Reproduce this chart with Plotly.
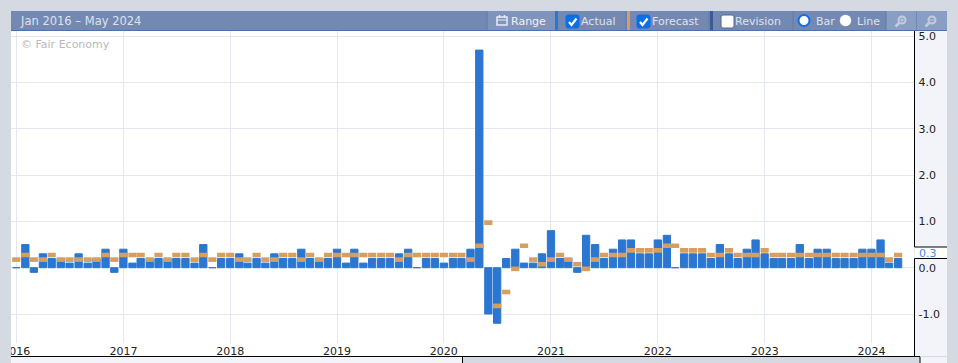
import pandas as pd
import plotly.graph_objects as go

W, H = 958, 363

months = pd.date_range("2016-01-01", periods=100, freq="MS")
actual = [0.0,0.5,-0.1,0.3,0.2,0.2,0.1,0.3,0.1,0.2,0.4,-0.1,
          0.4,0.1,0.2,0.2,0.2,0.2,0.2,0.2,0.1,0.5,0.0,0.2,
          0.2,0.3,0.1,0.2,0.1,0.3,0.2,0.2,0.4,0.2,0.2,0.2,
          0.4,0.1,0.4,0.1,0.2,0.2,0.2,0.3,0.4,0.0,0.2,0.2,
          0.1,0.2,0.2,0.4,4.7,-1.0,-1.2,0.2,0.4,0.1,0.1,0.3,
          0.8,0.2,0.2,-0.1,0.7,0.5,0.2,0.4,0.6,0.6,0.3,0.3,
          0.6,0.7,0.0,0.3,0.3,0.3,0.2,0.5,0.3,0.2,0.4,0.6,
          0.3,0.2,0.2,0.2,0.5,0.2,0.4,0.4,0.2,0.2,0.2,0.4,
          0.4,0.6,0.1,0.2]
forecast = [0.2,0.3,0.2,0.2,0.3,0.2,0.2,0.2,0.2,0.2,0.3,0.2,
            0.3,0.3,0.3,0.2,0.3,0.2,0.3,0.3,0.2,0.3,0.2,0.3,
            0.3,0.2,0.2,0.3,0.2,0.2,0.3,0.3,0.2,0.3,0.2,0.3,
            0.3,0.3,0.3,0.3,0.3,0.3,0.3,0.2,0.3,0.3,0.3,0.3,
            0.3,0.3,0.3,0.2,0.5,1.0,-0.8,-0.5,0.0,0.5,0.2,0.1,
            0.2,0.3,0.2,0.1,0.0,0.2,0.3,0.3,0.3,0.4,0.4,0.4,
            0.4,0.5,0.5,0.4,0.4,0.4,0.3,0.3,0.4,0.3,0.3,0.3,
            0.4,0.3,0.3,0.3,0.3,0.3,0.3,0.3,0.3,0.3,0.3,0.3,
            0.3,0.3,0.2,0.3]
y_ticks = [-1, 0, 1, 2, 3, 4, 5]
y_labels = ["-1.0", "0.0", "1.0", "2.0", "3.0", "4.0", "5.0"]
x_range = ["2015-12-14", "2024-05-27"]
y_range = [-1.626, 5.112]
latest_label = "0.3"
title = "Jan 2016 – May 2024"
credit = "© Fair Economy"

BAR = "#2a76d0"; FC = "#d69f62"; GRID = "#e6e8f1"; GRAY = "#d5d9e2"
STRIP = "#f3f4f9"; BAND = "#7389b4"; BTN = "#8a9dc4"; TXT = "#dde2ec"; INK = "#222222"
DAY_MS = 86400000
marker_top, marker_h = 0.025, 0.1


def px(x): return x / W
def py(y): return 1 - y / H


shapes, notes = [], []


def rect(x0, y0, x1, y1, color, layer="above", line=None, lw=0):
    shapes.append(dict(type="rect", xref="paper", yref="paper", x0=px(x0), x1=px(x1), y0=py(y1), y1=py(y0),
                       fillcolor=color, layer=layer, line=dict(width=lw, color=line or color)))


def seg(x0, y0, x1, y1, color="#000000", w=1, layer="above"):
    shapes.append(dict(type="line", xref="paper", yref="paper", x0=px(x0), x1=px(x1), y0=py(y0), y1=py(y1),
                       layer=layer, line=dict(color=color, width=w)))


def circ(cx, cy, r, fill, line, lw):
    shapes.append(dict(type="circle", xref="paper", yref="paper", x0=px(cx - r), x1=px(cx + r), y0=py(cy + r), y1=py(cy - r),
                       fillcolor=fill, layer="above", line=dict(color=line, width=lw)))


def label(x, y, s, color=TXT, size=11, anchor="left"):
    notes.append(dict(xref="paper", yref="paper", x=px(x), y=py(y), text=s, showarrow=False, xanchor=anchor, yanchor="middle",
                      xshift=-2, font=dict(family="DejaVu Sans", size=size, color=color)))


def box(x, y, fill, check):
    path = (f"M {px(x+2)} {py(y)} L {px(x+11)} {py(y)} Q {px(x+13)} {py(y)} {px(x+13)} {py(y+2)} L {px(x+13)} {py(y+11)} "
            f"Q {px(x+13)} {py(y+13)} {px(x+11)} {py(y+13)} L {px(x+2)} {py(y+13)} Q {px(x)} {py(y+13)} {px(x)} {py(y+11)} "
            f"L {px(x)} {py(y+2)} Q {px(x)} {py(y)} {px(x+2)} {py(y)} Z")
    shapes.append(dict(type="path", xref="paper", yref="paper", path=path, fillcolor=fill, layer="above",
                       line=dict(width=1, color="#55688f" if not check else fill)))
    if check:
        shapes.append(dict(type="path", xref="paper", yref="paper", layer="above",
                           path=f"M {px(x+3)} {py(y+7)} L {px(x+5.5)} {py(y+10)} L {px(x+10.5)} {py(y+3.5)}",
                           line=dict(color="white", width=2.2)))


def lens(cx, cy, plus):
    circ(cx, cy, 3.5, "rgba(0,0,0,0)", "#c3cde0", 2)
    seg(cx - 3, cy + 3, cx - 6.5, cy + 6.5, "#c3cde0", 2.5)
    seg(cx - 2, cy, cx + 2, cy, "#c3cde0", 1)
    if plus:
        seg(cx, cy - 2, cx, cy + 2, "#c3cde0", 1)


# frame
rect(11, 343, 915, 357, "white", "below")
rect(915, 31, 947, 356, STRIP, "below")
rect(915, 247, 947, 258, "white", "below")
rect(11, 357, 462, 363, STRIP)
rect(462, 357, 958, 363, GRAY)
rect(920, 357, 947, 363, STRIP)
rect(0, 0, 11, 363, GRAY)
rect(947, 0, 958, 363, GRAY)
rect(0, 0, 958, 11, GRAY)
rect(11, 11, 947, 30, BAND)
seg(11, 30.5, 947, 30.5, "#4d6fb0", 1)
seg(11, 356.5, 920, 356.5)
seg(462.5, 357, 462.5, 363)
seg(920, 357, 920, 363)
seg(914.5, 31, 914.5, 247)
seg(914.5, 258.5, 914.5, 356)
seg(914.5, 247, 947, 247)
seg(914.5, 258.5, 947, 258.5)

# toolbar
rect(487, 11, 555, 30, "#7f93bc")
rect(555, 11, 558, 30, BAR)
rect(627, 11, 630, 30, FC)
rect(710, 11, 713, 30, "#3c5a98")
rect(886, 11, 916, 30, BTN)
rect(917, 11, 947, 30, BTN)
for sx in (487, 626, 709, 793, 886):
    seg(sx, 11, sx, 30, "#617bab", 1)
label(20, 21, title, "#dde2ec", 11.5)
# calendar icon
rect(497, 17, 507, 25, "rgba(0,0,0,0)", line="#e6eaf2", lw=1.5)
seg(497, 20, 507, 20, "#e6eaf2", 1)
seg(499.5, 15, 499.5, 18, "#e6eaf2", 1.5)
seg(504.5, 15, 504.5, 18, "#e6eaf2", 1.5)
label(511, 21, "Range", "#eef1f6", 11)
box(566, 15, "#0b6fe8", True)
label(581, 21, "Actual", TXT, 11)
box(637, 15, "#0b6fe8", True)
label(652, 21, "Forecast", TXT, 11)
box(721, 15, "#ffffff", False)
label(735, 21, "Revision", TXT, 11)
circ(804, 20.5, 5.5, "white", "#0b6fe8", 2)
label(816, 21, "Bar", TXT, 11)
circ(845.5, 20.5, 6, "white", "#5a71a0", 0.5)
label(857, 21, "Line", TXT, 11)
lens(902, 20, True)
lens(932, 20, False)

label(21, 44.5, credit, "#b9b9b9", 11)
label(919, 253, latest_label, "#3f8ae2", 11)

fig = go.Figure()
fig.add_bar(x=months, y=actual, width=[7.3 / 0.2926 * DAY_MS] * len(months),
            marker=dict(color=BAR, line=dict(color=BAR, width=1)), name="Actual")
fig.add_bar(x=months, y=[marker_h] * len(months), base=[f + marker_top - marker_h for f in forecast],
            width=[8.2 / 0.2926 * DAY_MS] * len(months), marker=dict(color=FC, line=dict(width=0)), name="Forecast")

fig.update_layout(
    width=W, height=H, margin=dict(l=0, r=0, t=0, b=0), autosize=False,
    paper_bgcolor=GRAY, plot_bgcolor="white", barmode="overlay", showlegend=False,
    font=dict(family="DejaVu Sans", size=11, color=INK),
    shapes=shapes, annotations=notes,
    xaxis=dict(type="date", domain=[px(11), px(914.5)], range=x_range, dtick="M12", tick0="2016-01-01",
               tickformat="%Y", showgrid=True, gridcolor=GRID, gridwidth=1, ticks="", zeroline=False,
               ticklabelmode="instant", fixedrange=True, automargin=False),
    yaxis=dict(domain=[py(343), py(31)], range=y_range, side="right", tickvals=y_ticks, ticktext=y_labels,
               showgrid=True, gridcolor=GRID, gridwidth=1, ticks="", zeroline=True, zerolinecolor=GRID, zerolinewidth=1,
               fixedrange=True, automargin=False, ticklabelstandoff=3),
)
fig.write_html("out.html", config={"displayModeBar": False},
               post_script="document.body.style.margin='0';document.body.style.overflow='hidden';")
